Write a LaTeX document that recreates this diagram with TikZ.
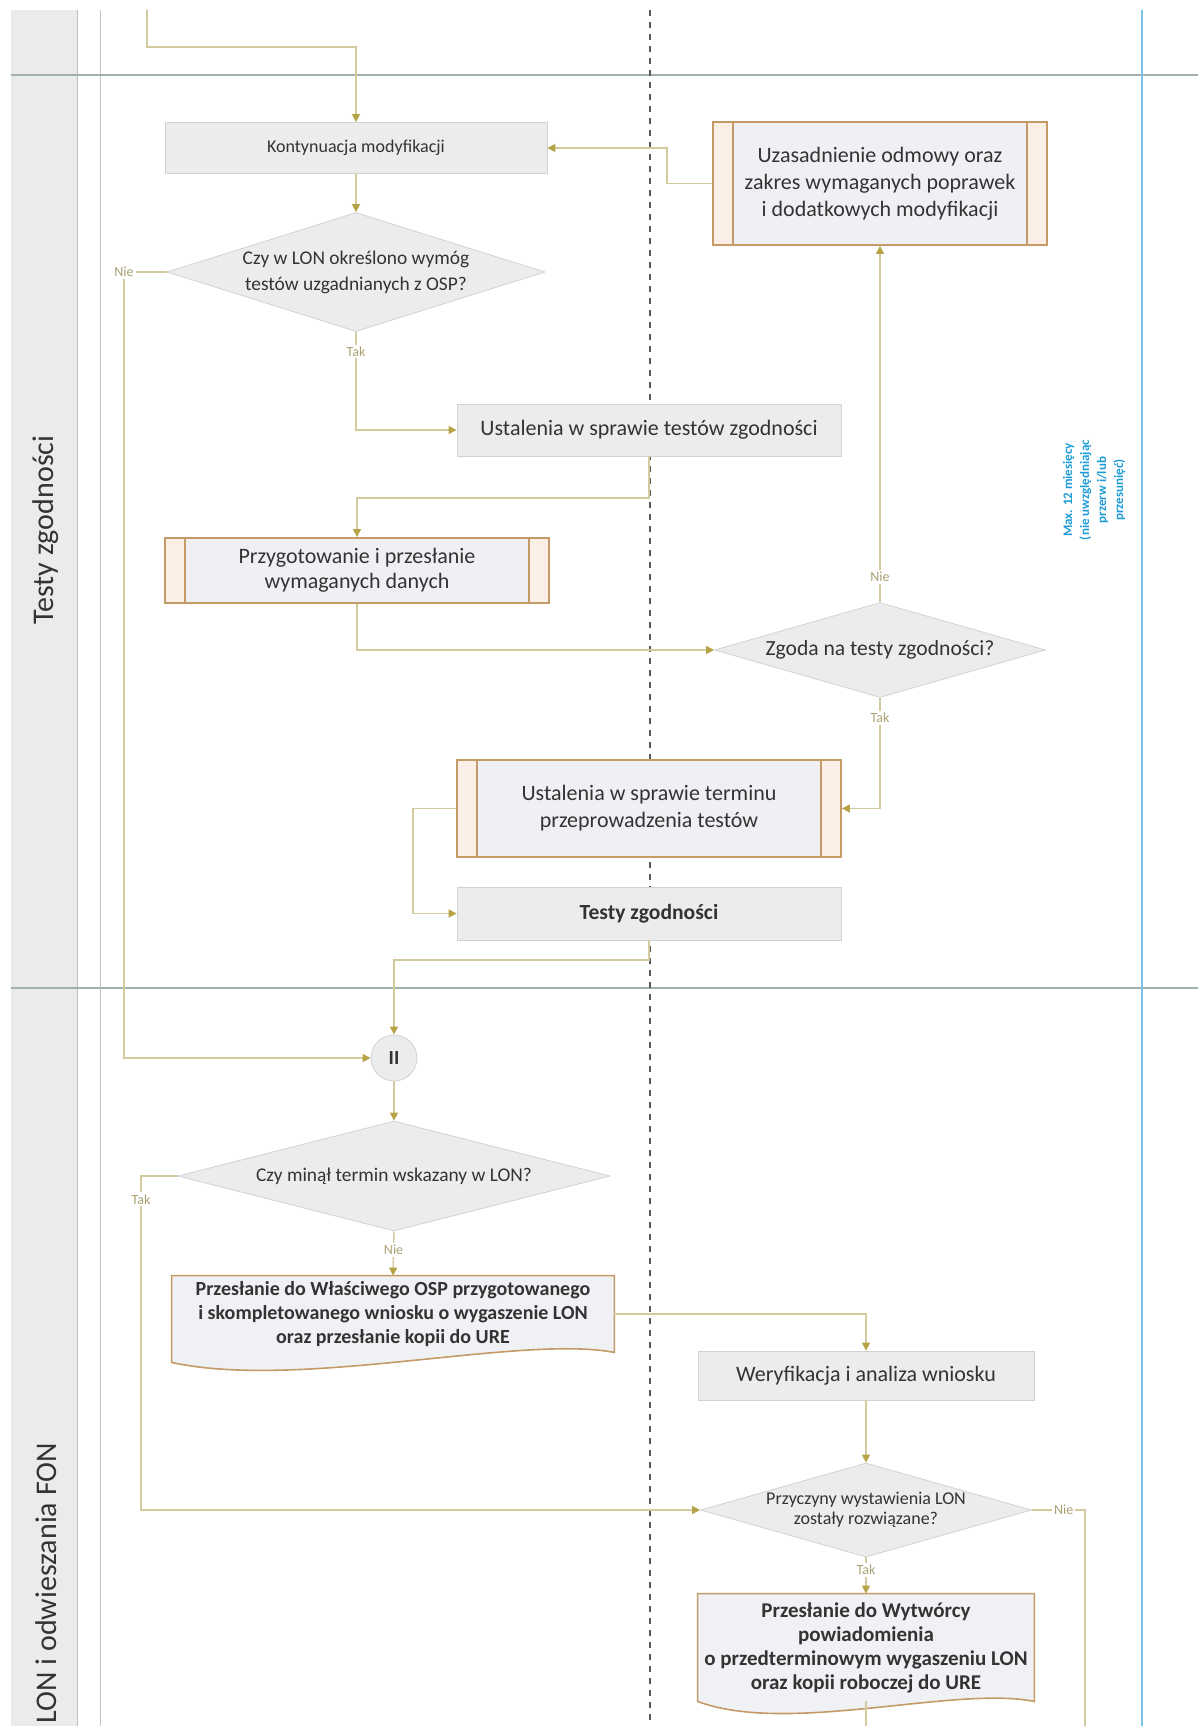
\documentclass[tikz,border=0pt]{standalone}
\usepackage{fontspec}
\setmainfont{Carlito}
\usepackage{xcolor}
\usepackage{tikz}
\usetikzlibrary{arrows.meta}
\usetikzlibrary{shapes.geometric}
\usetikzlibrary{positioning}
\usetikzlibrary{backgrounds}

\definecolor{lanegray}{HTML}{EBEBEB}
\definecolor{laneline}{HTML}{A3B0B0}
\definecolor{boxfill}{HTML}{ECECEC}
\definecolor{boxline}{HTML}{D2D2D2}
\definecolor{subline}{HTML}{C49A66}
\definecolor{subside}{HTML}{FAEEE6}
\definecolor{subfill}{HTML}{EEF0F3}
\definecolor{docfill}{HTML}{F0F1F4}
\definecolor{flowline}{HTML}{D3CA9E}
\definecolor{flowtip}{HTML}{B7A347}
\definecolor{lblcol}{HTML}{A9A175}
\definecolor{notecol}{HTML}{1E9BD7}
\definecolor{txt}{HTML}{333333}

\tikzset{
  task/.style={rectangle, draw=boxline, fill=boxfill, text=txt, align=center, inner sep=2pt},
  subproc/.style={rectangle, draw=subline, line width=0.9pt, fill=subfill, text=txt, align=center,
    path picture={
      \fill[subside] (path picture bounding box.north west) rectangle ([xshift=10pt]path picture bounding box.south west);
      \fill[subside] (path picture bounding box.north east) rectangle ([xshift=-10pt]path picture bounding box.south east);
      \draw[subline, line width=0.9pt] ([xshift=10pt]path picture bounding box.north west) -- ([xshift=10pt]path picture bounding box.south west);
      \draw[subline, line width=0.9pt] ([xshift=-10pt]path picture bounding box.north east) -- ([xshift=-10pt]path picture bounding box.south east);
    }},
  decision/.style={diamond, draw=boxline, fill=boxfill, text=txt, align=center, inner sep=0pt},
  gate/.style={circle, draw=boxline, fill=boxfill, text=txt, minimum size=23pt, inner sep=0pt, font=\bfseries\fontsize{10}{12}\selectfont},
  doc/.style={rectangle, text=txt, align=center, inner sep=0pt},
  docline/.style={draw=subline, line width=0.8pt, fill=docfill},
  lanetitle/.style={rotate=90, text=txt, font=\fontsize{15}{17}\selectfont},
  note/.style={text=notecol, align=center, font=\bfseries\fontsize{6.5}{8.5}\selectfont},
  lbl/.style={text=lblcol, fill=white, inner sep=1pt, font=\fontsize{7}{8}\selectfont},
  flow/.style={draw=flowline, line width=0.7pt, -{Triangle[length=4pt, width=4pt, color=flowtip]}},
  plain/.style={draw=flowline, line width=0.7pt}
}

\begin{document}
\begin{tikzpicture}[x=1pt, y=1pt]
\useasboundingbox (0,0) rectangle (599,-863);

% swimlanes
\begin{scope}[on background layer]
  \fill[lanegray] (5.5,-5) rectangle (38.5,-863);
  \draw[black!25, line width=0.5pt] (38.5,-5) -- (38.5,-863);
  \draw[black!25, line width=0.5pt] (50,-5) -- (50,-863);
  \draw[laneline, line width=1pt] (5.5,-37.5) -- (599,-37.5);
  \draw[laneline, line width=1pt] (5.5,-494) -- (599,-494);
  \draw[black!65, dashed, line width=0.6pt] (325,-5) -- (325,-863);
  \draw[notecol!60, line width=0.8pt] (571,-5) -- (571,-863);
\end{scope}

\node[lanetitle] (lane1) at (23,-265) {Testy zgodności};
\node[lanetitle, anchor=east] (lane2) at (23,-718) {LON i odwieszania FON};

\node[note, rotate=90] (note) at (547,-245) {Max. 12 miesięcy\\(nie uwzględniając\\przerw i/lub\\przesunięć)};

% steps
\node[task, minimum width=191pt, minimum height=25.5pt, font=\fontsize{9}{10}\selectfont] (kont) at (178,-74) {Kontynuacja modyfikacji};
\node[subproc, minimum width=167pt, minimum height=61.5pt, font=\fontsize{11}{13.5}\selectfont] (uzas) at (440,-91.75) {Uzasadnienie odmowy oraz\\zakres wymaganych poprawek\\i dodatkowych modyfikacji};
\node[decision, minimum width=189pt, minimum height=59.5pt, shape aspect=3.18, font=\fontsize{9.7}{13}\selectfont] (d1) at (178,-136) {Czy w LON określono wymóg\\testów uzgadnianych z OSP?};
\node[task, minimum width=192pt, minimum height=26pt, font=\fontsize{11}{12}\selectfont] (ust1) at (324.5,-215) {Ustalenia w sprawie testów zgodności};
\node[subproc, minimum width=192pt, minimum height=32.5pt, font=\fontsize{11}{12.5}\selectfont] (przyg) at (178.5,-285.25) {Przygotowanie i przesłanie\\wymaganych danych};
\node[decision, minimum width=165.5pt, minimum height=47.5pt, shape aspect=3.48, font=\fontsize{10.8}{12}\selectfont] (zgoda) at (440,-325) {Zgoda na testy zgodności?};
\node[subproc, minimum width=192pt, minimum height=48.5pt, font=\fontsize{11}{13.5}\selectfont] (termin) at (324.5,-404.25) {Ustalenia w sprawie terminu\\przeprowadzenia testów};
\node[task, minimum width=192pt, minimum height=26.5pt, font=\bfseries\fontsize{10.8}{12}\selectfont] (testy) at (324.5,-456.75) {Testy zgodności};

\node[gate] (merge) at (197,-529) {II};
\node[decision, minimum width=216pt, minimum height=55pt, shape aspect=3.93, font=\fontsize{9.7}{11}\selectfont] (d3) at (197,-588) {Czy minął termin wskazany w LON?};
\node[doc, minimum width=221pt, minimum height=38pt, font=\bfseries\fontsize{10}{12}\selectfont] (doc1) at (196.5,-657) {Przesłanie do Właściwego OSP przygotowanego\\i skompletowanego wniosku o wygaszenie LON\\oraz przesłanie kopii do URE};
\node[task, minimum width=168pt, minimum height=24.5pt, font=\fontsize{11}{12}\selectfont] (weryf) at (433,-687.75) {Weryfikacja i analiza wniosku};
\node[decision, minimum width=165.5pt, minimum height=47pt, shape aspect=3.52, font=\fontsize{9}{10}\selectfont] (przycz) at (433,-755) {Przyczyny wystawienia LON\\zostały rozwiązane?};
\node[doc, minimum width=168pt, minimum height=53.5pt, font=\bfseries\fontsize{10.5}{12}\selectfont] (doc2) at (433,-823.75) {Przesłanie do Wytwórcy\\powiadomienia\\o przedterminowym wygaszeniu LON\\oraz kopii roboczej do URE};

% document outlines
\begin{scope}[on background layer]
  \draw[docline] (doc1.north west) -- (doc1.north east) -- (doc1.south east)
    .. controls +(-47,9) and +(64,-14) .. ([yshift=-5pt]doc1.south west) -- cycle;
  \draw[docline] (doc2.north west) -- (doc2.north east) -- (doc2.south east)
    .. controls +(-40,8) and +(45,-17) .. (doc2.south west) -- cycle;
\end{scope}

\coordinate (in) at (73.5,-5);
\coordinate (out1) at (433,-863);
\coordinate (out2) at (542.5,-863);

% connectors
\draw[flow] (in) |- (178,-23.5) -- (kont.north);
\draw[flow] (kont) -- (d1);
\draw[flow] (d1.west) -- (62,-136) node[lbl]{Nie} |- (merge.west);
\draw[flow] (d1.south) |- node[lbl, pos=0.1]{Tak} (ust1.west);
\draw[flow] (ust1.south) -- (324.5,-249) -| (przyg.north);
\draw[flow] (przyg.south) |- (zgoda.west);
\draw[flow] (zgoda.north) -- node[lbl, pos=0.07]{Nie} (uzas.south);
\draw[flow] (zgoda.south) |- node[lbl, pos=0.09]{Tak} (termin.east);
\draw[flow] (uzas.west) -- (333.5,-91.75) |- (kont.east);
\draw[flow] (termin.west) -- (206.5,-404.25) |- (testy.west);
\draw[flow] (testy.south) -- (324.5,-480) -| (merge.north);
\draw[flow] (merge) -- (d3);
\draw[flow] (d3.west) -- (70.5,-588) -- node[lbl, pos=0.07]{Tak} (70.5,-755) -- (przycz.west);
\draw[flow] (d3.south) -- node[lbl, pos=0.42]{Nie} (doc1.north);
\draw[flow] (doc1.east) -| (weryf.north);
\draw[flow] (weryf) -- (przycz);
\draw[flow] (przycz.south) -- node[lbl, pos=0.35]{Tak} (doc2.north);
\draw[plain] (przycz.east) -- node[lbl, pos=0.6]{Nie} (542.5,-755) -- (out2);
\draw[plain] (doc2.south) -- (out1);
\end{tikzpicture}
\end{document}
